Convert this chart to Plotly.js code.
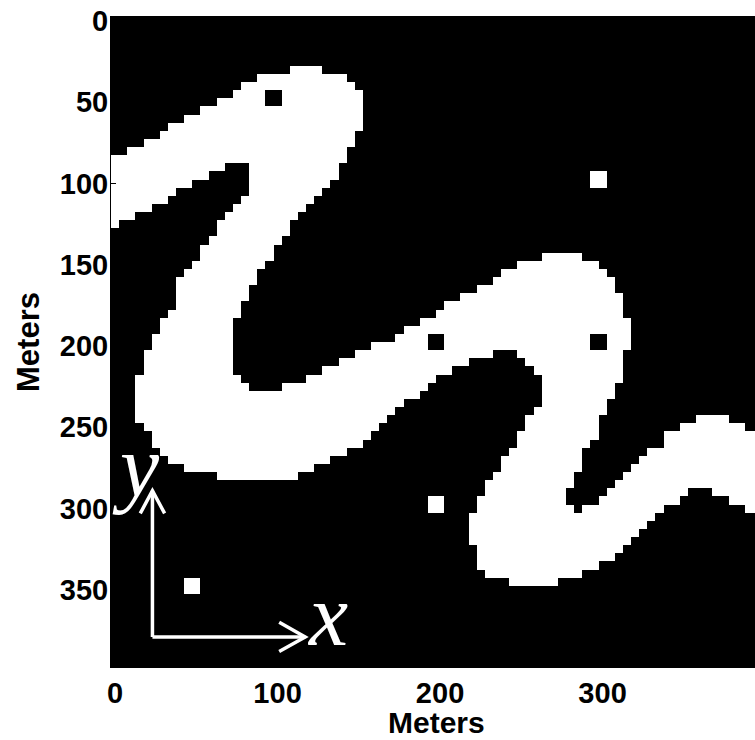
<!DOCTYPE html>
<html>
<head>
<meta charset="utf-8">
<script src="https://cdn.plot.ly/plotly-3.0.1.min.js"></script>
<style>
html, body { margin: 0; padding: 0; overflow: hidden; background: #fff; }
#chart { width: 770px; height: 740px; }
</style>
</head>
<body>
<div id="chart"></div>
<script>
// Facies grid: 80 x 80 cells of 5 m; white = channel sand, black = background.
// Each row lists the white runs [firstCol, lastCol].
const channelRows = [
  [], [], [], [], [], [],
  [[22,25]],
  [[18,28]],
  [[16,29]],
  [[15,30]],
  [[13,30]],
  [[11,30]],
  [[9,30]],
  [[7,30]],
  [[6,29]],
  [[4,29]],
  [[2,28]],
  [[0,28]],
  [[0,13],[17,27]],
  [[0,11],[17,27]],
  [[0,9],[17,26]],
  [[0,7],[17,25]],
  [[0,6],[16,24]],
  [[0,4],[15,23]],
  [[0,2],[14,22]],
  [[0,0],[13,21]],
  [[13,21]],
  [[12,20]],
  [[11,19]],
  [[11,19],[53,57]],
  [[10,18],[50,59]],
  [[9,17],[48,60]],
  [[8,17],[47,61]],
  [[8,16],[45,61]],
  [[8,16],[43,62]],
  [[8,15],[41,62]],
  [[7,15],[40,62]],
  [[6,14],[38,63]],
  [[6,14],[36,63]],
  [[5,14],[35,63]],
  [[5,14],[32,63]],
  [[4,14],[30,46],[50,62]],
  [[4,14],[28,43],[51,62]],
  [[4,14],[26,41],[52,62]],
  [[3,15],[24,39],[53,62]],
  [[3,16],[21,38],[53,61]],
  [[3,37],[53,61]],
  [[3,35],[53,60]],
  [[3,34],[52,60]],
  [[3,33],[51,59],[72,75]],
  [[4,32],[51,59],[70,77]],
  [[5,31],[50,59],[68,79]],
  [[5,30],[50,58],[68,79]],
  [[6,28],[49,57],[66,79]],
  [[7,26],[48,57],[65,79]],
  [[9,24],[48,57],[64,79]],
  [[13,22],[47,56],[63,79]],
  [[46,56],[62,79]],
  [[46,55],[61,70],[74,79]],
  [[45,55],[60,69],[76,79]],
  [[45,56],[58,67],[78,79]],
  [[44,66]],
  [[44,65]],
  [[44,64]],
  [[44,63]],
  [[45,62]],
  [[45,61]],
  [[45,59]],
  [[46,57]],
  [[49,54]],
  [], [], [], [], [], [], [], [], [], []
];

// Wells (meters) and the facies value drawn at each well (0 = black, 1 = white)
const wellX = [100, 200, 300, 300, 200, 50];
const wellY = [50, 200, 200, 100, 300, 350];
const wellFacies = [0, 0, 0, 1, 1, 1];

// Axis ticks
const xTicks = [0, 100, 200, 300];
const yTicks = [0, 50, 100, 150, 200, 250, 300, 350];

const cellSize = 5;
const nCells = channelRows.length;

const cellCenters = [];
for (let i = 0; i < nCells; i++) cellCenters.push(i * cellSize);

const z = [];
for (let r = 0; r < nCells; r++) {
  const row = new Array(nCells).fill(0);
  channelRows[r].forEach(function (run) {
    for (let c = run[0]; c <= run[1]; c++) row[c] = 1;
  });
  z.push(row);
}
for (let k = 0; k < wellX.length; k++) {
  const c1 = wellX[k] / cellSize, r1 = wellY[k] / cellSize;
  [c1 - 1, c1].forEach(function (c) {
    [r1 - 1, r1].forEach(function (r) { z[r][c] = wellFacies[k]; });
  });
}

const trace = {
  type: 'heatmap',
  x: cellCenters,
  y: cellCenters,
  z: z,
  zmin: 0, zmax: 1,
  colorscale: [[0, '#000000'], [1, '#ffffff']],
  showscale: false,
  zsmooth: false,
  hoverinfo: 'skip'
};

const tickFont = { family: 'Liberation Sans, Arial, sans-serif', size: 29, color: '#000', weight: 'bold' };
const titleFont = { family: 'Liberation Sans, Arial, sans-serif', size: 31, color: '#000', weight: 'bold' };
const xTitleFont = { family: 'Liberation Sans, Arial, sans-serif', size: 30, color: '#000', weight: 'bold' };
const half = cellSize / 2;
const maxV = (nCells - 1) * cellSize + half;

const arrowLine = { color: '#ffffff', width: 3.5 };

const layout = {
  width: 770,
  height: 740,
  margin: { l: 111, r: 9, t: 17, b: 73 },
  paper_bgcolor: '#ffffff',
  plot_bgcolor: '#000000',
  showlegend: false,
  xaxis: {
    range: [-half, maxV],
    tickvals: xTicks,
    ticktext: xTicks.map(String),
    ticks: 'inside',
    ticklen: 5,
    tickcolor: '#000',
    showgrid: false,
    zeroline: false,
    showline: true,
    mirror: true,
    linecolor: '#000',
    linewidth: 1,
    tickfont: tickFont,
    fixedrange: true
  },
  yaxis: {
    range: [maxV, -half],
    tickvals: yTicks,
    ticktext: yTicks.map(String),
    ticks: 'inside',
    ticklen: 5,
    tickcolor: '#000',
    showgrid: false,
    zeroline: false,
    showline: true,
    mirror: true,
    linecolor: '#000',
    linewidth: 1,
    tickfont: tickFont,
    ticklabelstandoff: -4,
    title: { text: 'Meters', font: titleFont, standoff: 10 },
    fixedrange: true
  },
  shapes: [
    { type: 'path', xref: 'x', yref: 'y', path: 'M 23 379 L 23 289', line: arrowLine },
    { type: 'path', xref: 'x', yref: 'y', path: 'M 15.5 303 L 23 289 L 30.5 303', line: arrowLine },
    { type: 'path', xref: 'x', yref: 'y', path: 'M 23 379 L 117 379', line: arrowLine },
    { type: 'path', xref: 'x', yref: 'y', path: 'M 101 370 L 117 379 L 101 388', line: arrowLine }
  ],
  annotations: [
    { x: 0.5, y: -0.0854, xref: 'paper', yref: 'paper', text: 'Meters', showarrow: false,
      font: xTitleFont, xanchor: 'center', yanchor: 'middle' },
    { x: 13, y: 274, xref: 'x', yref: 'y', text: '<i>y</i>', showarrow: false,
      font: { family: 'Liberation Serif, Times New Roman, serif', size: 88, color: '#ffffff' },
      xanchor: 'center', yanchor: 'middle' },
    { x: 131, y: 366, xref: 'x', yref: 'y', text: '<i>x</i>', showarrow: false,
      font: { family: 'Liberation Serif, Times New Roman, serif', size: 88, color: '#ffffff' },
      xanchor: 'center', yanchor: 'middle' }
  ]
};

Plotly.newPlot('chart', [trace], layout, { displayModeBar: false, staticPlot: true });
</script>
</body>
</html>
